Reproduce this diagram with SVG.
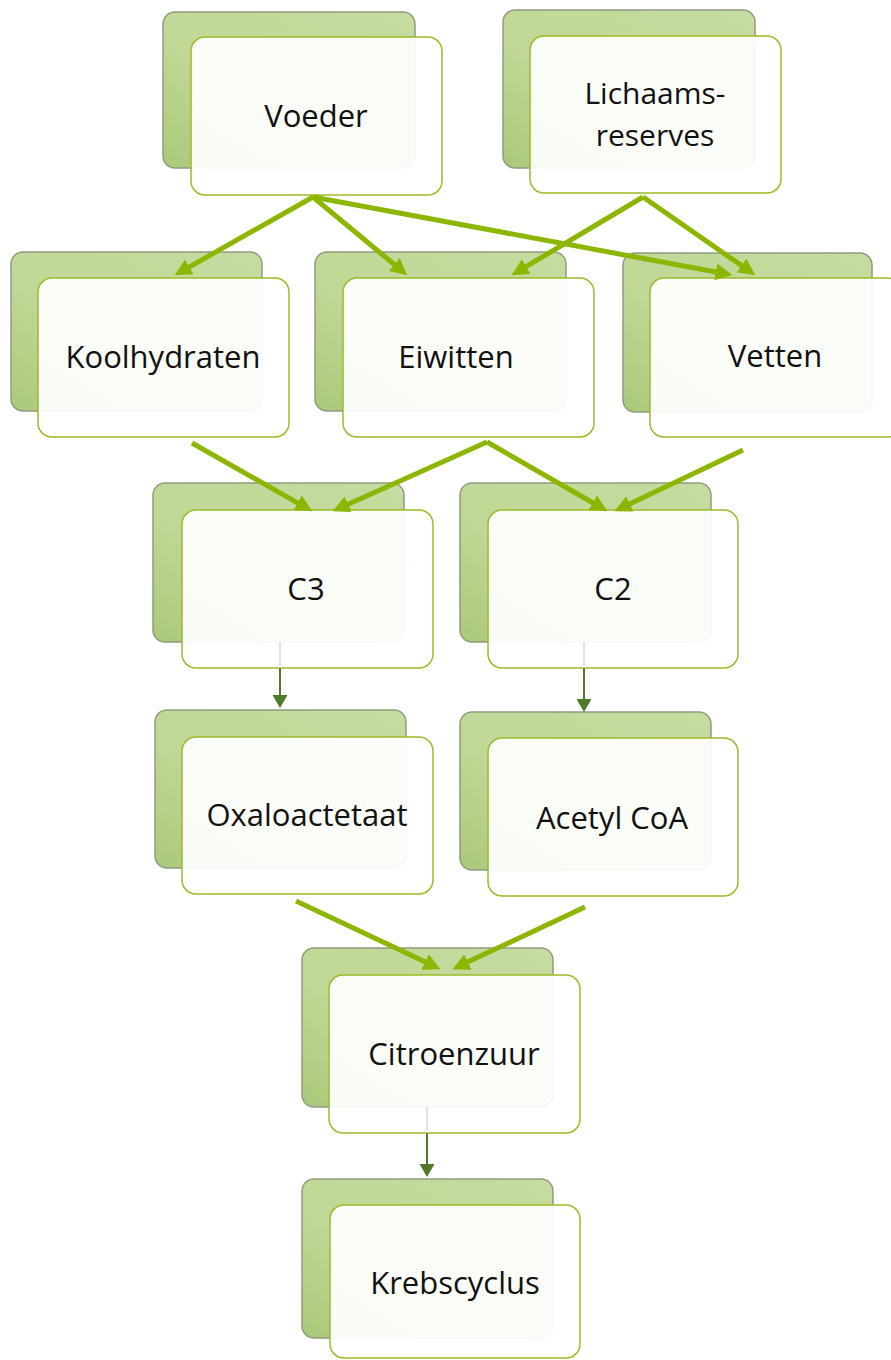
<svg xmlns="http://www.w3.org/2000/svg" width="891" height="1360" viewBox="0 0 891 1360">
  <style>
    .back { fill: url(#backFill); stroke: #8f9c80; stroke-width: 1.5; }
    .front { fill: #ffffff; fill-opacity: 0.92; stroke: #9dbb2a; stroke-width: 1.5; }
    .label { font-family: "Open Sans", "Noto Sans", "DejaVu Sans", sans-serif; font-size: 31px; fill: #111111; text-anchor: middle; }
    .twoLine { font-size: 30px; }
    .flow { stroke: #8db600; stroke-width: 5; fill: none; marker-end: url(#headBig); }
    .step { stroke: #4f7b28; stroke-width: 2; fill: none; }
    .stepTail { stroke: #e3e4dd; stroke-width: 2; fill: none; }
    .stepHead { fill: #4f7b28; }
  </style>
  <defs>
    <linearGradient id="backFill" x1="1" y1="0" x2="0" y2="1">
      <stop offset="0" stop-color="#c6dca0"/>
      <stop offset="0.6" stop-color="#c0d795"/>
      <stop offset="1" stop-color="#aac97a"/>
    </linearGradient>
    <marker id="headBig" markerUnits="userSpaceOnUse" markerWidth="17" markerHeight="17" viewBox="0 0 16 16" refX="8" refY="8" orient="auto">
      <path d="M0,0 L16,8 L0,16 z" fill="#8db600"/>
    </marker>
  </defs>

  <!-- nodes: a green card behind a white card, label on top -->
  <g id="voeder">
    <rect class="back" x="163" y="12" width="252" height="156" rx="12"/>
    <rect class="front" x="191" y="37" width="251" height="158" rx="14"/>
    <text class="label" x="316" y="127">Voeder</text>
  </g>
  <g id="lichaamsreserves">
    <rect class="back" x="503" y="10" width="252" height="158" rx="12"/>
    <rect class="front" x="530" y="36" width="251" height="157" rx="14"/>
    <text class="label twoLine" x="655" y="104">Lichaams-<tspan x="655" dy="42">reserves</tspan></text>
  </g>
  <g id="koolhydraten">
    <rect class="back" x="11" y="252" width="251" height="159" rx="12"/>
    <rect class="front" x="38" y="278" width="251" height="159" rx="14"/>
    <text class="label" x="163" y="368">Koolhydraten</text>
  </g>
  <g id="eiwitten">
    <rect class="back" x="315" y="252" width="251" height="159" rx="12"/>
    <rect class="front" x="343" y="278" width="251" height="159" rx="14"/>
    <text class="label" x="456" y="368">Eiwitten</text>
  </g>
  <g id="vetten">
    <rect class="back" x="623" y="253" width="249" height="159" rx="12"/>
    <rect class="front" x="650" y="278" width="251" height="159" rx="14"/>
    <text class="label" x="775" y="367">Vetten</text>
  </g>
  <g id="c3">
    <rect class="back" x="153" y="483" width="251" height="159" rx="12"/>
    <rect class="front" x="182" y="510" width="251" height="158" rx="14"/>
    <text class="label" x="306" y="600">C3</text>
  </g>
  <g id="c2">
    <rect class="back" x="460" y="483" width="251" height="159" rx="12"/>
    <rect class="front" x="488" y="510" width="250" height="158" rx="14"/>
    <text class="label" x="613" y="600">C2</text>
  </g>
  <g id="oxaloactetaat">
    <rect class="back" x="155" y="710" width="251" height="158" rx="12"/>
    <rect class="front" x="182" y="737" width="251" height="157" rx="14"/>
    <text class="label" x="307" y="826">Oxaloactetaat</text>
  </g>
  <g id="acetyl-coa">
    <rect class="back" x="460" y="712" width="251" height="158" rx="12"/>
    <rect class="front" x="488" y="738" width="250" height="158" rx="14"/>
    <text class="label" x="612" y="829">Acetyl CoA</text>
  </g>
  <g id="citroenzuur">
    <rect class="back" x="302" y="948" width="251" height="159" rx="12"/>
    <rect class="front" x="329" y="975" width="251" height="158" rx="14"/>
    <text class="label" x="454" y="1065">Citroenzuur</text>
  </g>
  <g id="krebscyclus">
    <rect class="back" x="302" y="1179" width="251" height="159" rx="12"/>
    <rect class="front" x="330" y="1205" width="250" height="153" rx="14"/>
    <text class="label" x="455" y="1294">Krebscyclus</text>
  </g>

  <!-- connectors -->
  <g id="connectors">
    <line class="flow" x1="313" y1="197" x2="182" y2="271.1"/>
    <line class="flow" x1="313" y1="197" x2="400.8" y2="269.9"/>
    <line class="flow" x1="313" y1="197" x2="724.1" y2="273.5"/>
    <line class="flow" x1="643" y1="197" x2="518.9" y2="270.9"/>
    <line class="flow" x1="643" y1="197" x2="748.4" y2="270.4"/>
    <line class="flow" x1="192" y1="443" x2="305" y2="507.1"/>
    <line class="flow" x1="487" y1="442" x2="340.3" y2="507.7"/>
    <line class="flow" x1="487" y1="442" x2="600.1" y2="507"/>
    <line class="flow" x1="743" y1="450" x2="622.2" y2="507.6"/>
    <line class="flow" x1="296" y1="901" x2="432.8" y2="965.6"/>
    <line class="flow" x1="585" y1="907" x2="460.2" y2="965.6"/>

    <line class="stepTail" x1="280" y1="642" x2="280" y2="668"/>
    <line class="step" x1="280" y1="668" x2="280" y2="696"/>
    <path class="stepHead" d="M272.5,695 L287.5,695 L280,708 z"/>

    <line class="stepTail" x1="584" y1="642" x2="584" y2="668"/>
    <line class="step" x1="584" y1="668" x2="584" y2="700"/>
    <path class="stepHead" d="M576.5,699 L591.5,699 L584,712 z"/>

    <line class="stepTail" x1="427" y1="1107" x2="427" y2="1133"/>
    <line class="step" x1="427" y1="1133" x2="427" y2="1165"/>
    <path class="stepHead" d="M419.5,1164 L434.5,1164 L427,1177 z"/>
  </g>
</svg>
